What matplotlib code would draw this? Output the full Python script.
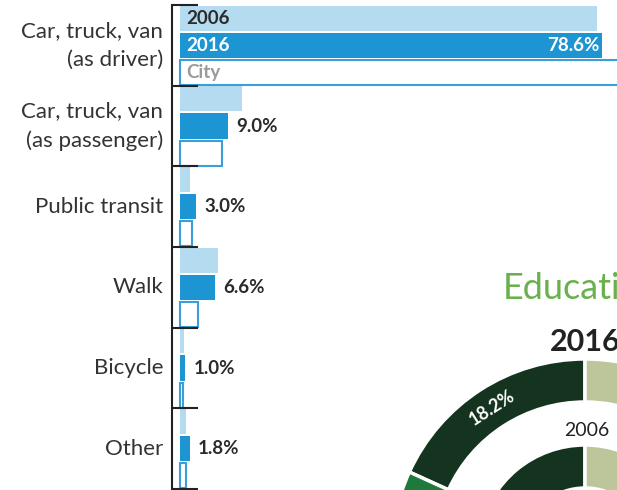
import numpy as np
import matplotlib.pyplot as plt

plt.rcParams['font.family'] = ['Lato', 'DejaVu Sans']

# commute mode shares (%)
modes = ['Car, truck, van\n(as driver)', 'Car, truck, van\n(as passenger)',
         'Public transit', 'Walk', 'Bicycle', 'Other']
share_2006 = [77.7, 11.5, 1.9, 7.0, 0.8, 1.1]
share_2016 = [78.6, 9.0, 3.0, 6.6, 1.0, 1.8]
share_city = [84.0, 7.8, 2.3, 3.4, 0.6, 1.2]
value_labels = ['78.6%', '9.0%', '3.0%', '6.6%', '1.0%', '1.8%']

# education donut (only part of it is visible)
edu_2016 = [18.2, 30.5, 26.3, 25.0]
edu_2006 = [22.0, 31.0, 25.0, 22.0]
edu_colors = ['#14341f', '#1d7a3c', '#5fa35a', '#bcc69a']

light_blue = '#b4dbef'
blue = '#1e95d3'
city_edge = '#3a9fd8'
dark = '#2b2b2b'

W, H = 617, 490


def px_box(l, t, r, b):
    return [l / W, 1 - b / H, (r - l) / W, (b - t) / H]


fig = plt.figure(figsize=(W / 100, H / 100), dpi=100)

# ---- bar chart
ppu = 5.37  # pixels per percent
ax = fig.add_axes(px_box(172, 5, 617, 489))
ax.set_xlim(-8 / ppu, -8 / ppu + 445 / ppu)
ax.set_ylim(len(modes) - 0.5, -0.5)

y = np.arange(len(modes))
off = 0.335
h = 0.31
ax.barh(y - off, share_2006, height=h, color=light_blue)
ax.barh(y, share_2016, height=h, color=blue)
ax.barh(y + off, share_city, height=h, facecolor='white',
        edgecolor=city_edge, linewidth=1.5)

for i, (v, lab) in enumerate(zip(share_2016, value_labels)):
    if i == 0:
        ax.annotate(lab, (v, i), xytext=(-3, 0), textcoords='offset pixels',
                    ha='right', va='center', color='white',
                    fontsize=13.5, fontweight='bold')
    else:
        ax.annotate(lab, (v, i), xytext=(8, 0), textcoords='offset pixels',
                    ha='left', va='center', color=dark,
                    fontsize=13.5, fontweight='bold')

for dy, txt, c in [(-off, '2006', dark), (0, '2016', 'white'),
                   (off, 'City', '#9a9a9a')]:
    ax.annotate(txt, (0, dy), xytext=(6, 0), textcoords='offset pixels',
                ha='left', va='center', color=c, fontsize=13.5,
                fontweight='bold')

for i, m in enumerate(modes):
    ax.annotate(m, (0, i), xycoords=('axes fraction', 'data'),
                xytext=(-9, 0), textcoords='offset pixels',
                ha='right', va='center', multialignment='right',
                fontsize=16, color='#333333', linespacing=1.55)

bounds = np.arange(len(modes) + 1) - 0.5
ax.hlines(bounds, 0, 26 / 445, transform=ax.get_yaxis_transform(),
          color='#222222', lw=1.5, clip_on=False)
for s in ['top', 'right', 'bottom']:
    ax.spines[s].set_visible(False)
ax.spines['left'].set_color('#222222')
ax.spines['left'].set_linewidth(1.5)
ax.set_xticks([])
ax.set_yticks([])

# ---- education donut
cx, cy, R = 585, 552, 193
dax = fig.add_axes(px_box(cx - R, cy - R, cx + R, cy + R))
ring = 43 / R
dax.pie(edu_2016, colors=edu_colors, startangle=90, radius=1,
        wedgeprops=dict(width=ring, edgecolor='white', linewidth=2.5))
dax.pie(edu_2006, colors=edu_colors, startangle=90, radius=107 / R,
        wedgeprops=dict(width=ring, edgecolor='white', linewidth=2.5))
dax.set_xlim(-1, 1)
dax.set_ylim(-1, 1)
dax.axis('off')

ang = 90 + edu_2016[0] / 100 * 360 / 2
rmid = 1 - ring / 2
dax.text(rmid * np.cos(np.radians(ang)), rmid * np.sin(np.radians(ang)),
         f'{edu_2016[0]}%', rotation=ang - 90, ha='center', va='center',
         color='white', fontsize=13, fontweight='bold',
         rotation_mode='anchor')

fig.text(503 / W, 1 - 299 / H, 'Education', color='#6ab04c', fontsize=26,
         ha='left', va='baseline')
fig.text(550 / W, 1 - 351 / H, '2016', color='#222222', fontsize=22,
         fontweight='bold', ha='left', va='baseline')
fig.text(587 / W, 1 - 436 / H, '2006', color='#222222', fontsize=14,
         ha='center', va='baseline')

fig.savefig('out.png', dpi=100)
